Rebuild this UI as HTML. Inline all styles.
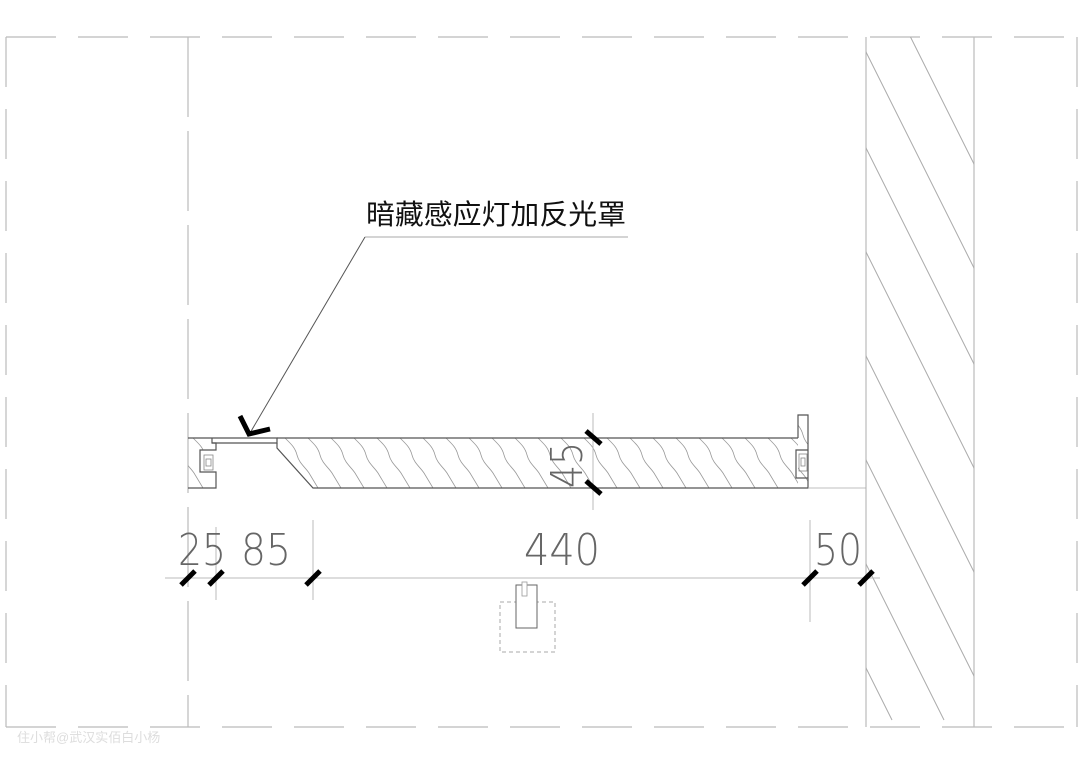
<!DOCTYPE html>
<html><head><meta charset="utf-8"><style>
html,body{margin:0;padding:0;background:#fff;}
svg{display:block;}
</style></head><body>
<svg width="1080" height="764" viewBox="0 0 1080 764" xmlns="http://www.w3.org/2000/svg">
<defs>
<clipPath id="wall"><rect x="866" y="37" width="108" height="690"/></clipPath>
<clipPath id="shelf"><polygon points="277,443 277,448 313,488 798,488 798,438 277,438"/></clipPath>
<clipPath id="shelfL"><polygon points="188,438 212,438 212,443 216,443 216,450 200,450 200,472 216,472 216,488 188,488"/></clipPath>
<clipPath id="shelfR"><polygon points="798,415 808,415 808,488 798,488"/></clipPath>
</defs>
<g fill="none" stroke="#bbb" stroke-width="1.2">
<line x1="6" y1="37" x2="1078" y2="37" stroke-dasharray="50 22"/>
<line x1="6" y1="727" x2="1078" y2="727" stroke-dasharray="50 22"/>
<line x1="6" y1="37" x2="6" y2="727" stroke-dasharray="50 22"/>
<line x1="1077" y1="37" x2="1077" y2="727" stroke-dasharray="50 22"/>
<line x1="188" y1="37" x2="188" y2="727" stroke-dasharray="80 14"/>
<line x1="866" y1="37" x2="866" y2="727"/>
<line x1="974" y1="37" x2="974" y2="727"/>
</g>
<g clip-path="url(#wall)" stroke="#aaa" stroke-width="1">
<line x1="800" y1="-80" x2="1200" y2="720"/>
<line x1="752" y1="-80" x2="1152" y2="720"/>
<line x1="852" y1="-80" x2="1252" y2="720"/>
<line x1="700" y1="-80" x2="1100" y2="720"/>
<line x1="648" y1="-80" x2="1048" y2="720"/>
<line x1="596" y1="-80" x2="996" y2="720"/>
<line x1="544" y1="-80" x2="944" y2="720"/>
<line x1="492" y1="-80" x2="892" y2="720"/>
<line x1="440" y1="-80" x2="840" y2="720"/>
<line x1="388" y1="-80" x2="788" y2="720"/>
<line x1="336" y1="-80" x2="736" y2="720"/>
<line x1="284" y1="-80" x2="684" y2="720"/>
<line x1="232" y1="-80" x2="632" y2="720"/>
<line x1="180" y1="-80" x2="580" y2="720"/>
<line x1="128" y1="-80" x2="528" y2="720"/>
<line x1="76" y1="-80" x2="476" y2="720"/>
</g>
<!-- wood grain -->
<g stroke="#999" stroke-width="0.8" fill="none">
<g clip-path="url(#shelf)">
<path id="g" d="M0,438 c5,5 10,9 12,17 c2,8 8,12 12,18 c3,5 6,10 9,15" transform="translate(262,0)"/>
<use href="#g" x="23"/><use href="#g" x="46"/><use href="#g" x="69"/><use href="#g" x="92"/><use href="#g" x="115"/><use href="#g" x="138"/><use href="#g" x="161"/><use href="#g" x="184"/><use href="#g" x="207"/><use href="#g" x="230"/><use href="#g" x="253"/><use href="#g" x="276"/><use href="#g" x="299"/><use href="#g" x="322"/><use href="#g" x="345"/><use href="#g" x="368"/><use href="#g" x="391"/><use href="#g" x="414"/><use href="#g" x="437"/><use href="#g" x="460"/><use href="#g" x="483"/><use href="#g" x="506"/><use href="#g" x="529"/><use href="#g" x="552"/>
</g>
<g clip-path="url(#shelfL)"><use href="#g" x="-69"/><use href="#g" x="-46"/><use href="#g" x="-92"/></g>
<g clip-path="url(#shelfR)"><use href="#g" x="529" y="-20"/><use href="#g" x="520" y="5"/></g>
</g>
<g fill="none" stroke="#555" stroke-width="1.2">
<line x1="277" y1="438" x2="798" y2="438"/>
<line x1="188" y1="438" x2="212" y2="438"/>
<polyline points="212,438 212,443 277,443 277,438 212,438"/>
<polyline points="212,443 216,443 216,450 200,450 200,472 216,472 216,488 188,488"/>
<polyline points="277,443 277,448 313,488 808,488 808,415 798,415 798,438"/>
<polyline points="808,450 796,450 796,478 808,478"/>
</g>
<g fill="none" stroke="#888" stroke-width="0.8">
<rect x="204" y="455" width="9" height="15"/><rect x="206" y="459" width="5" height="7"/>
<rect x="799" y="454" width="8" height="17"/><rect x="801" y="458" width="4" height="8"/>
<line x1="808" y1="488" x2="866" y2="488" stroke="#aaa"/>
</g>
<!-- dimension -->
<g stroke="#bbb" stroke-width="1" fill="none">
<line x1="165" y1="578" x2="880" y2="578"/>
<line x1="216" y1="527" x2="216" y2="600"/>
<line x1="313" y1="520" x2="313" y2="600"/>
<line x1="810" y1="520" x2="810" y2="622"/>
<line x1="593" y1="413" x2="593" y2="510"/>
</g>
<g stroke="#000" stroke-width="5">
<line x1="181" y1="585" x2="195" y2="571"/>
<line x1="209" y1="585" x2="223" y2="571"/>
<line x1="306" y1="585" x2="320" y2="571"/>
<line x1="803" y1="585" x2="817" y2="571"/>
<line x1="859" y1="585" x2="873" y2="571"/>
<line x1="586" y1="431" x2="601" y2="444"/>
<line x1="586" y1="481" x2="601" y2="494"/>
</g>
<g font-family="'DejaVu Sans ExtraLight', 'DejaVu Sans', sans-serif" font-weight="200" font-size="44" fill="#666">
<text x="178" y="565" textLength="48" lengthAdjust="spacingAndGlyphs">25</text>
<text x="241" y="565" textLength="50" lengthAdjust="spacingAndGlyphs">85</text>
<text x="524" y="565" textLength="76" lengthAdjust="spacingAndGlyphs">440</text>
<text x="814" y="565" textLength="48" lengthAdjust="spacingAndGlyphs">50</text>
<text transform="translate(582,488) rotate(-90)" textLength="46" lengthAdjust="spacingAndGlyphs">45</text>
</g>
<!-- sensor -->
<rect x="500" y="602" width="55" height="50" fill="none" stroke="#aaa" stroke-dasharray="4 3"/>
<rect x="516" y="585" width="21" height="43" fill="#fff" stroke="#666"/>
<rect x="522" y="582" width="5" height="14" fill="#fff" stroke="#999" stroke-width="0.8"/>
<!-- leader -->
<line x1="365" y1="237" x2="628" y2="237" stroke="#aaa"/>
<line x1="365" y1="237" x2="250" y2="433" stroke="#555"/>
<polyline points="240,416 249,434 270,429" fill="none" stroke="#000" stroke-width="5"/>
<text x="366" y="224" font-family="Liberation Sans, 'Noto Sans CJK SC', sans-serif" font-size="28" fill="#111" textLength="260" lengthAdjust="spacingAndGlyphs">暗藏感应灯加反光罩</text>
<text x="17" y="742" font-family="Liberation Sans, 'Noto Sans CJK SC', sans-serif" font-size="13" fill="#ddd">住小帮@武汉实佰白小杨</text>
</svg>
</body></html>
